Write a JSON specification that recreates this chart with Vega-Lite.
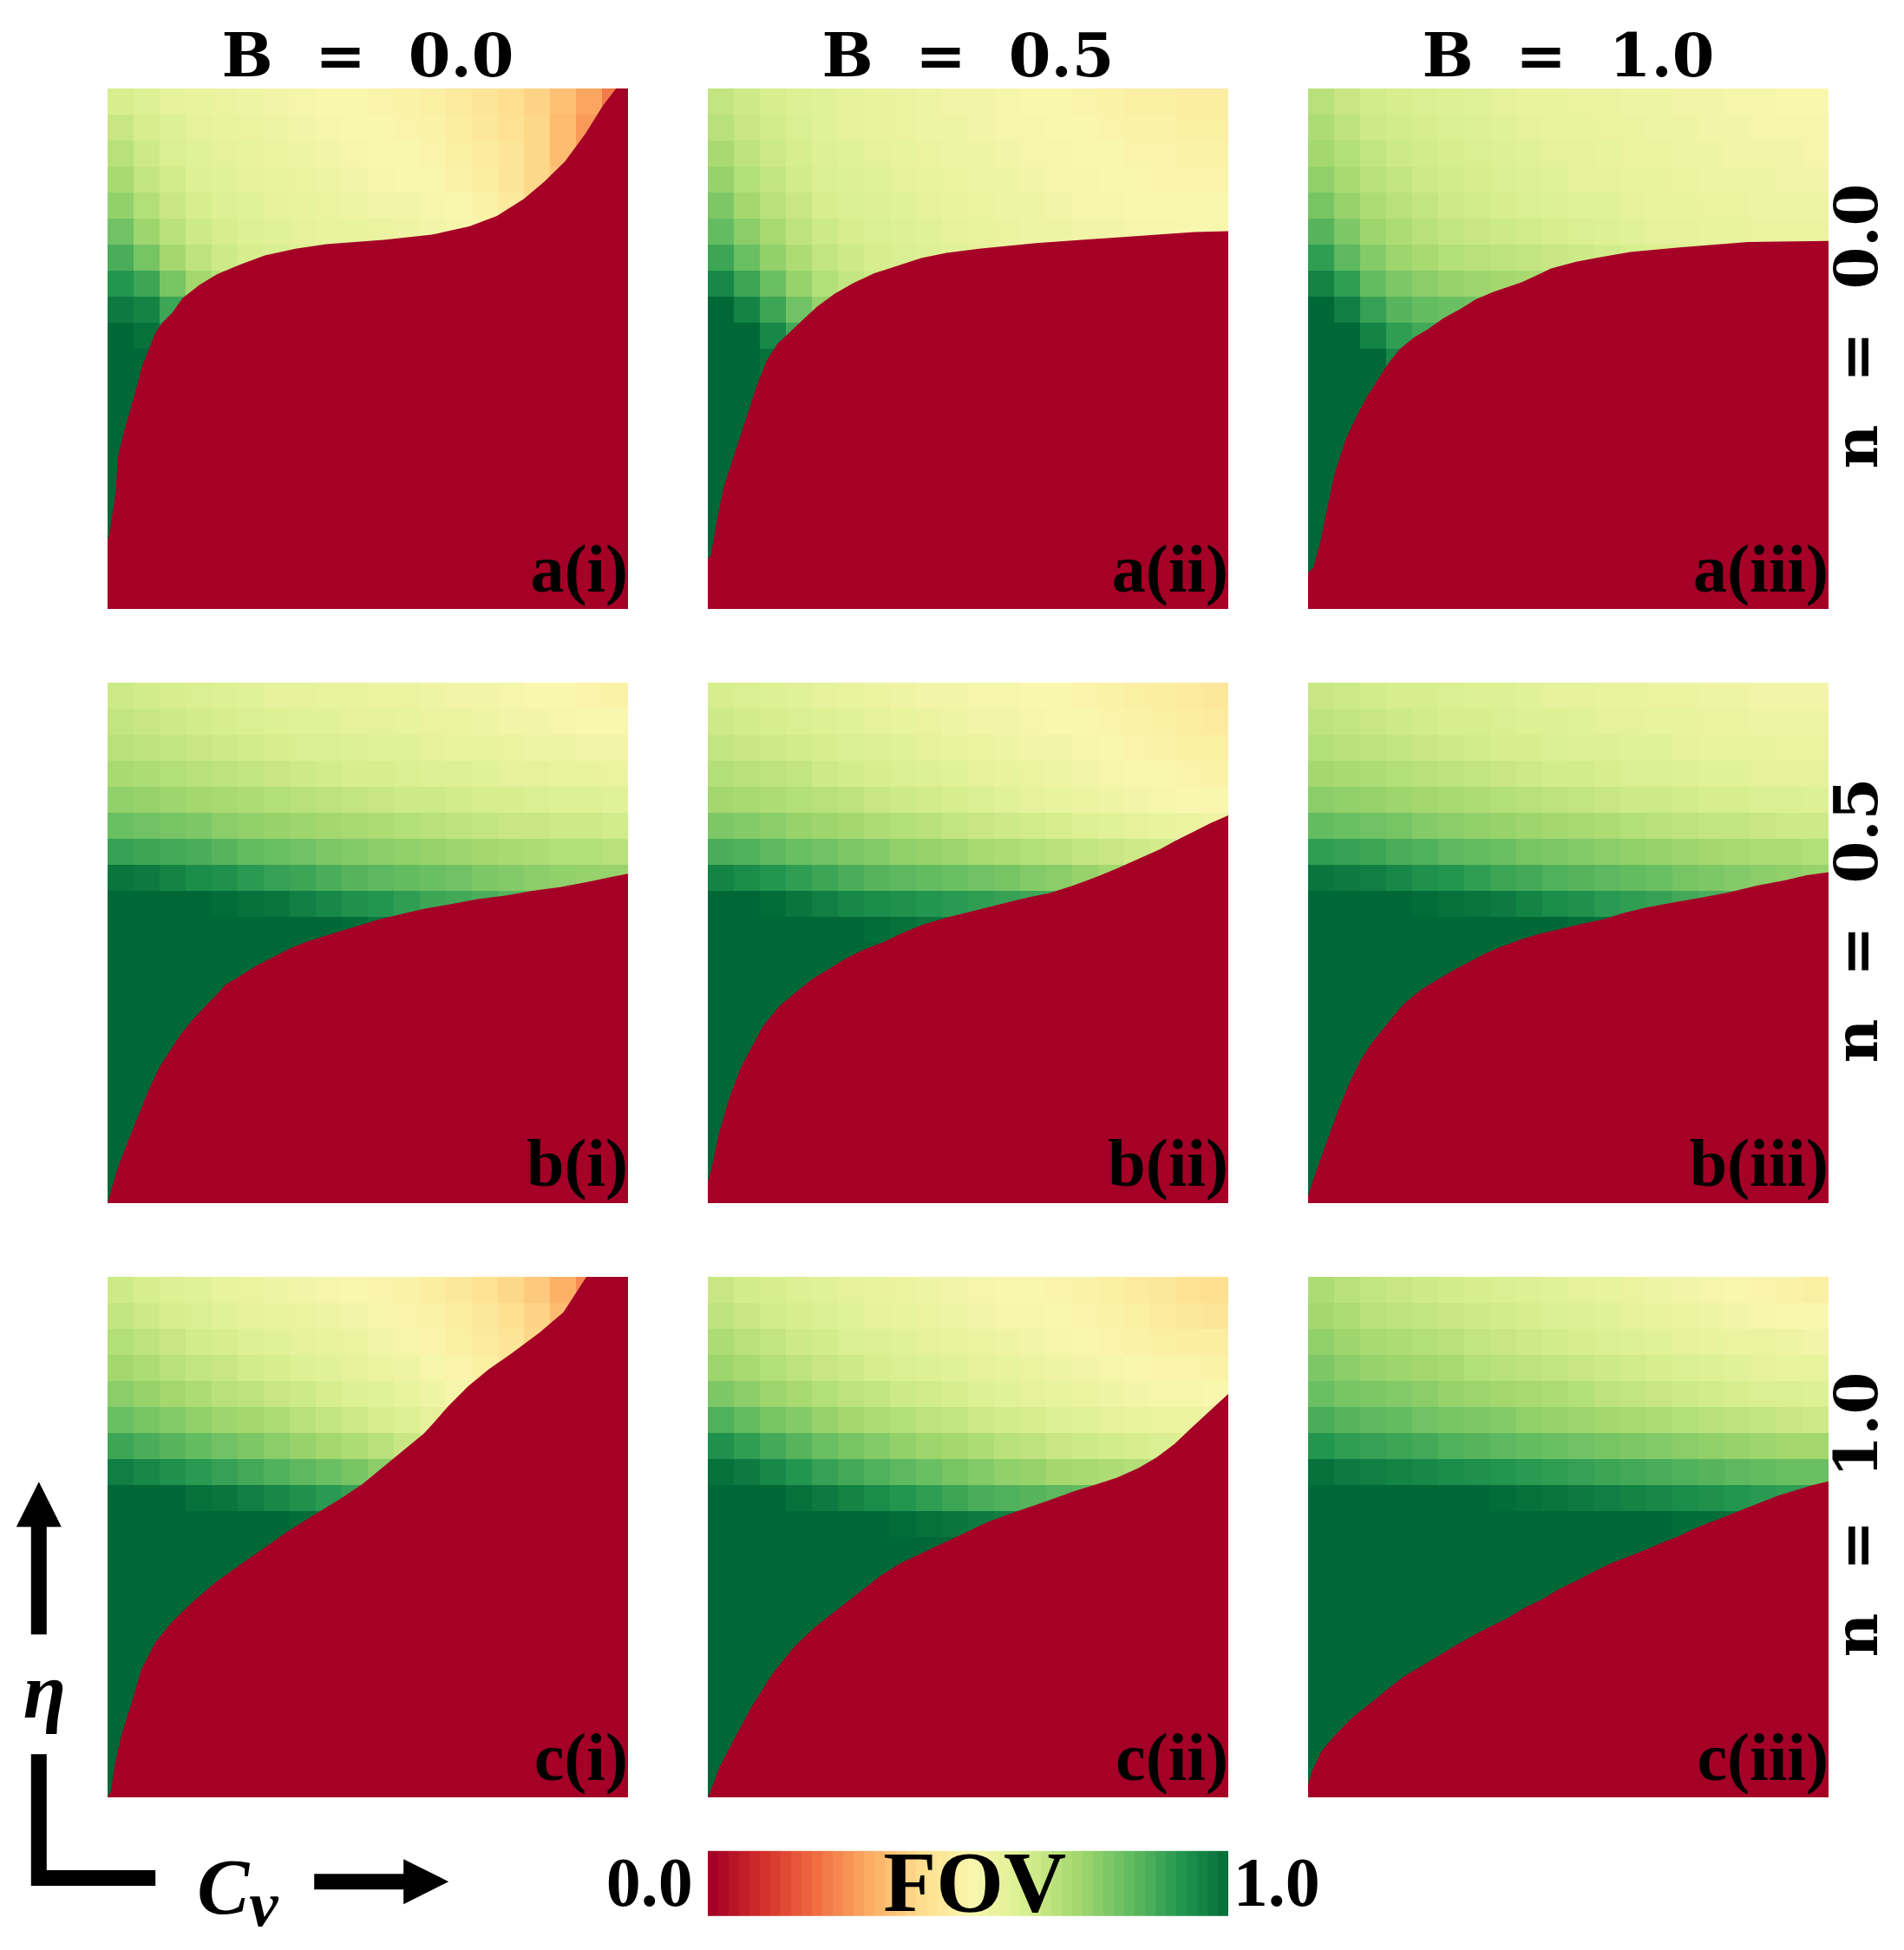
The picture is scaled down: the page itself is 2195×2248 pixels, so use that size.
{
"$schema":"https://vega.github.io/schema/vega-lite/v6.json",
"background":"white",
"padding":{"left":8,"top":32,"right":10,"bottom":10},
"data":{"values":[
{"N":"0.0","B":"0.0","y":19,"a":0.6,"b":0.58,"c":0.56,"d":0.55,"e":0.54,"f":0.53,"g":0.52,"h":0.51,"i":0.5,"j":0.5,"k":0.49,"l":0.48,"m":0.47,"n":0.45,"o":0.43,"p":0.41,"q":0.38,"r":0.34,"s":0.29,"t":0.22},
{"N":"0.0","B":"0.0","y":18,"a":0.63,"b":0.6,"c":0.58,"d":0.56,"e":0.55,"f":0.54,"g":0.53,"h":0.52,"i":0.51,"j":0.5,"k":0.5,"l":0.49,"m":0.48,"n":0.46,"o":0.44,"p":0.42,"q":0.39,"r":0.33,"s":0.27},
{"N":"0.0","B":"0.0","y":17,"a":0.66,"b":0.62,"c":0.59,"d":0.57,"e":0.56,"f":0.55,"g":0.54,"h":0.53,"i":0.52,"j":0.51,"k":0.5,"l":0.5,"m":0.49,"n":0.47,"o":0.45,"p":0.43,"q":0.39,"r":0.33,"s":0.28},
{"N":"0.0","B":"0.0","y":16,"a":0.69,"b":0.64,"c":0.61,"d":0.58,"e":0.57,"f":0.56,"g":0.55,"h":0.54,"i":0.53,"j":0.52,"k":0.51,"l":0.5,"m":0.5,"n":0.48,"o":0.46,"p":0.43,"q":0.39,"r":0.35},
{"N":"0.0","B":"0.0","y":15,"a":0.73,"b":0.67,"c":0.63,"d":0.6,"e":0.58,"f":0.57,"g":0.56,"h":0.55,"i":0.54,"j":0.53,"k":0.52,"l":0.52,"m":0.51,"n":0.5,"o":0.48,"p":0.45,"q":0.4},
{"N":"0.0","B":"0.0","y":14,"a":0.78,"b":0.71,"c":0.66,"d":0.62,"e":0.6,"f":0.58,"g":0.57,"h":0.56,"i":0.55,"j":0.55,"k":0.54,"l":0.53,"m":0.52,"n":0.51,"o":0.49},
{"N":"0.0","B":"0.0","y":13,"a":0.84,"b":0.77,"c":0.7,"d":0.65,"e":0.62,"f":0.6,"g":0.59,"h":0.58,"i":0.57},
{"N":"0.0","B":"0.0","y":12,"a":0.9,"b":0.86,"c":0.77,"d":0.7,"e":0.66},
{"N":"0.0","B":"0.0","y":11,"a":0.96,"b":0.94,"c":0.86},
{"N":"0.0","B":"0.0","y":10,"a":1,"b":0.98,"c":0.9},
{"N":"0.0","B":"0.0","y":9,"a":1,"b":1},
{"N":"0.0","B":"0.0","y":8,"a":1,"b":1},
{"N":"0.0","B":"0.0","y":7,"a":1},
{"N":"0.0","B":"0.0","y":6,"a":1},
{"N":"0.0","B":"0.0","y":5,"a":1},
{"N":"0.0","B":"0.0","y":4,"a":1},
{"N":"0.0","B":"0.0","y":3,"a":1},
{"N":"0.0","B":"0.0","y":2,"a":1},
{"N":"0.0","B":"0.5","y":19,"a":0.64,"b":0.62,"c":0.6,"d":0.58,"e":0.57,"f":0.56,"g":0.55,"h":0.54,"i":0.53,"j":0.52,"k":0.52,"l":0.51,"m":0.5,"n":0.5,"o":0.49,"p":0.48,"q":0.47,"r":0.47,"s":0.46,"t":0.46},
{"N":"0.0","B":"0.5","y":18,"a":0.66,"b":0.63,"c":0.61,"d":0.59,"e":0.57,"f":0.56,"g":0.55,"h":0.54,"i":0.53,"j":0.53,"k":0.52,"l":0.51,"m":0.51,"n":0.5,"o":0.5,"p":0.49,"q":0.48,"r":0.48,"s":0.47,"t":0.47},
{"N":"0.0","B":"0.5","y":17,"a":0.69,"b":0.65,"c":0.62,"d":0.6,"e":0.58,"f":0.57,"g":0.56,"h":0.55,"i":0.54,"j":0.53,"k":0.53,"l":0.52,"m":0.51,"n":0.51,"o":0.5,"p":0.5,"q":0.49,"r":0.49,"s":0.48,"t":0.48},
{"N":"0.0","B":"0.5","y":16,"a":0.72,"b":0.67,"c":0.64,"d":0.61,"e":0.59,"f":0.58,"g":0.57,"h":0.56,"i":0.55,"j":0.54,"k":0.53,"l":0.53,"m":0.52,"n":0.51,"o":0.51,"p":0.5,"q":0.5,"r":0.49,"s":0.49,"t":0.49},
{"N":"0.0","B":"0.5","y":15,"a":0.76,"b":0.7,"c":0.66,"d":0.63,"e":0.6,"f":0.59,"g":0.58,"h":0.57,"i":0.56,"j":0.55,"k":0.54,"l":0.53,"m":0.53,"n":0.52,"o":0.51,"p":0.51,"q":0.5,"r":0.5,"s":0.5,"t":0.5},
{"N":"0.0","B":"0.5","y":14,"a":0.8,"b":0.74,"c":0.69,"d":0.65,"e":0.62,"f":0.6,"g":0.59,"h":0.58,"i":0.57,"j":0.56,"k":0.55,"l":0.54,"m":0.53,"n":0.53,"o":0.52,"p":0.52,"q":0.51,"r":0.51,"s":0.5,"t":0.5},
{"N":"0.0","B":"0.5","y":13,"a":0.86,"b":0.79,"c":0.73,"d":0.68,"e":0.64,"f":0.62,"g":0.6,"h":0.59,"i":0.58,"j":0.57,"k":0.56,"l":0.55},
{"N":"0.0","B":"0.5","y":12,"a":0.93,"b":0.86,"c":0.79,"d":0.72,"e":0.67,"f":0.64,"g":0.62},
{"N":"0.0","B":"0.5","y":11,"a":1,"b":0.94,"c":0.86,"d":0.78,"e":0.72},
{"N":"0.0","B":"0.5","y":10,"a":1,"b":1,"c":0.93,"d":0.85},
{"N":"0.0","B":"0.5","y":9,"a":1,"b":1,"c":0.98},
{"N":"0.0","B":"0.5","y":8,"a":1,"b":1,"c":1},
{"N":"0.0","B":"0.5","y":7,"a":1,"b":1},
{"N":"0.0","B":"0.5","y":6,"a":1,"b":1},
{"N":"0.0","B":"0.5","y":5,"a":1,"b":1},
{"N":"0.0","B":"0.5","y":4,"a":1},
{"N":"0.0","B":"0.5","y":3,"a":1},
{"N":"0.0","B":"0.5","y":2,"a":1},
{"N":"0.0","B":"0.5","y":1,"a":1},
{"N":"0.0","B":"1.0","y":19,"a":0.66,"b":0.63,"c":0.61,"d":0.6,"e":0.59,"f":0.58,"g":0.57,"h":0.56,"i":0.55,"j":0.55,"k":0.54,"l":0.54,"m":0.53,"n":0.53,"o":0.52,"p":0.52,"q":0.51,"r":0.51,"s":0.5,"t":0.5},
{"N":"0.0","B":"1.0","y":18,"a":0.68,"b":0.65,"c":0.62,"d":0.61,"e":0.6,"f":0.59,"g":0.58,"h":0.57,"i":0.56,"j":0.55,"k":0.55,"l":0.54,"m":0.54,"n":0.53,"o":0.53,"p":0.52,"q":0.52,"r":0.51,"s":0.51,"t":0.51},
{"N":"0.0","B":"1.0","y":17,"a":0.7,"b":0.67,"c":0.64,"d":0.62,"e":0.61,"f":0.6,"g":0.59,"h":0.58,"i":0.57,"j":0.56,"k":0.56,"l":0.55,"m":0.54,"n":0.54,"o":0.53,"p":0.53,"q":0.52,"r":0.52,"s":0.52,"t":0.51},
{"N":"0.0","B":"1.0","y":16,"a":0.73,"b":0.69,"c":0.66,"d":0.64,"e":0.62,"f":0.61,"g":0.6,"h":0.59,"i":0.58,"j":0.57,"k":0.56,"l":0.56,"m":0.55,"n":0.55,"o":0.54,"p":0.53,"q":0.53,"r":0.53,"s":0.52,"t":0.52},
{"N":"0.0","B":"1.0","y":15,"a":0.77,"b":0.72,"c":0.68,"d":0.66,"e":0.64,"f":0.62,"g":0.61,"h":0.6,"i":0.59,"j":0.58,"k":0.57,"l":0.57,"m":0.56,"n":0.55,"o":0.55,"p":0.54,"q":0.54,"r":0.53,"s":0.53,"t":0.53},
{"N":"0.0","B":"1.0","y":14,"a":0.82,"b":0.76,"c":0.71,"d":0.68,"e":0.66,"f":0.64,"g":0.63,"h":0.62,"i":0.61,"j":0.6,"k":0.59,"l":0.58,"m":0.57,"n":0.56,"o":0.56,"p":0.55,"q":0.55,"r":0.54,"s":0.54,"t":0.54},
{"N":"0.0","B":"1.0","y":13,"a":0.88,"b":0.81,"c":0.75,"d":0.71,"e":0.69,"f":0.67,"g":0.66,"h":0.65,"i":0.64,"j":0.63,"k":0.62,"l":0.61,"m":0.6,"n":0.59,"o":0.58,"p":0.57},
{"N":"0.0","B":"1.0","y":12,"a":0.94,"b":0.88,"c":0.8,"d":0.76,"e":0.74,"f":0.72,"g":0.71,"h":0.7,"i":0.69,"j":0.68},
{"N":"0.0","B":"1.0","y":11,"a":1,"b":0.95,"c":0.87,"d":0.82,"e":0.8,"f":0.79,"g":0.78,"h":0.78},
{"N":"0.0","B":"1.0","y":10,"a":1,"b":1,"c":0.94,"d":0.88,"e":0.85},
{"N":"0.0","B":"1.0","y":9,"a":1,"b":1,"c":1,"d":0.93},
{"N":"0.0","B":"1.0","y":8,"a":1,"b":1,"c":1},
{"N":"0.0","B":"1.0","y":7,"a":1,"b":1,"c":1},
{"N":"0.0","B":"1.0","y":6,"a":1,"b":1},
{"N":"0.0","B":"1.0","y":5,"a":1,"b":1},
{"N":"0.0","B":"1.0","y":4,"a":1},
{"N":"0.0","B":"1.0","y":3,"a":1},
{"N":"0.0","B":"1.0","y":2,"a":1},
{"N":"0.0","B":"1.0","y":1,"a":1},
{"N":"0.5","B":"0.0","y":19,"a":0.62,"b":0.61,"c":0.6,"d":0.59,"e":0.58,"f":0.57,"g":0.56,"h":0.56,"i":0.55,"j":0.55,"k":0.54,"l":0.54,"m":0.53,"n":0.52,"o":0.52,"p":0.51,"q":0.5,"r":0.5,"s":0.49,"t":0.48},
{"N":"0.5","B":"0.0","y":18,"a":0.64,"b":0.63,"c":0.62,"d":0.61,"e":0.6,"f":0.59,"g":0.58,"h":0.57,"i":0.57,"j":0.56,"k":0.56,"l":0.55,"m":0.54,"n":0.54,"o":0.53,"p":0.52,"q":0.52,"r":0.51,"s":0.5,"t":0.5},
{"N":"0.5","B":"0.0","y":17,"a":0.66,"b":0.65,"c":0.64,"d":0.63,"e":0.62,"f":0.61,"g":0.6,"h":0.59,"i":0.59,"j":0.58,"k":0.57,"l":0.57,"m":0.56,"n":0.55,"o":0.55,"p":0.54,"q":0.53,"r":0.53,"s":0.52,"t":0.52},
{"N":"0.5","B":"0.0","y":16,"a":0.69,"b":0.68,"c":0.67,"d":0.66,"e":0.65,"f":0.64,"g":0.63,"h":0.62,"i":0.61,"j":0.6,"k":0.6,"l":0.59,"m":0.58,"n":0.58,"o":0.57,"p":0.56,"q":0.56,"r":0.55,"s":0.55,"t":0.54},
{"N":"0.5","B":"0.0","y":15,"a":0.73,"b":0.72,"c":0.71,"d":0.7,"e":0.69,"f":0.68,"g":0.67,"h":0.66,"i":0.65,"j":0.64,"k":0.63,"l":0.62,"m":0.62,"n":0.61,"o":0.6,"p":0.6,"q":0.59,"r":0.58,"s":0.58,"t":0.57},
{"N":"0.5","B":"0.0","y":14,"a":0.79,"b":0.78,"c":0.77,"d":0.76,"e":0.74,"f":0.73,"g":0.72,"h":0.71,"i":0.7,"j":0.69,"k":0.68,"l":0.67,"m":0.66,"n":0.65,"o":0.64,"p":0.63,"q":0.63,"r":0.62,"s":0.62,"t":0.61},
{"N":"0.5","B":"0.0","y":13,"a":0.87,"b":0.86,"c":0.85,"d":0.84,"e":0.82,"f":0.8,"g":0.79,"h":0.78,"i":0.76,"j":0.75,"k":0.74,"l":0.73,"m":0.72,"n":0.71,"o":0.7,"p":0.69,"q":0.68,"r":0.67,"s":0.67,"t":0.66},
{"N":"0.5","B":"0.0","y":12,"a":0.97,"b":0.96,"c":0.94,"d":0.92,"e":0.91,"f":0.89,"g":0.87,"h":0.86,"i":0.84,"j":0.82,"k":0.81,"l":0.8,"m":0.79,"n":0.78,"o":0.76,"p":0.75,"q":0.74,"r":0.73,"s":0.72,"t":0.72},
{"N":"0.5","B":"0.0","y":11,"a":1,"b":1,"c":1,"d":1,"e":0.99,"f":0.98,"g":0.97,"h":0.95,"i":0.93,"j":0.91,"k":0.9,"l":0.88,"m":0.86,"n":0.85,"o":0.84,"p":0.82,"q":0.81},
{"N":"0.5","B":"0.0","y":10,"a":1,"b":1,"c":1,"d":1,"e":1,"f":1,"g":1,"h":1,"i":1,"j":0.99,"k":0.97},
{"N":"0.5","B":"0.0","y":9,"a":1,"b":1,"c":1,"d":1,"e":1,"f":1,"g":1,"h":1},
{"N":"0.5","B":"0.0","y":8,"a":1,"b":1,"c":1,"d":1,"e":1,"f":1},
{"N":"0.5","B":"0.0","y":7,"a":1,"b":1,"c":1,"d":1,"e":1},
{"N":"0.5","B":"0.0","y":6,"a":1,"b":1,"c":1,"d":1},
{"N":"0.5","B":"0.0","y":5,"a":1,"b":1,"c":1},
{"N":"0.5","B":"0.0","y":4,"a":1,"b":1},
{"N":"0.5","B":"0.0","y":3,"a":1,"b":1},
{"N":"0.5","B":"0.0","y":2,"a":1,"b":1},
{"N":"0.5","B":"0.0","y":1,"a":1},
{"N":"0.5","B":"0.0","y":0,"a":1},
{"N":"0.5","B":"0.5","y":19,"a":0.6,"b":0.59,"c":0.58,"d":0.57,"e":0.56,"f":0.55,"g":0.54,"h":0.53,"i":0.52,"j":0.52,"k":0.51,"l":0.51,"m":0.5,"n":0.5,"o":0.49,"p":0.48,"q":0.47,"r":0.46,"s":0.45,"t":0.44},
{"N":"0.5","B":"0.5","y":18,"a":0.62,"b":0.61,"c":0.6,"d":0.59,"e":0.58,"f":0.57,"g":0.56,"h":0.55,"i":0.54,"j":0.53,"k":0.52,"l":0.52,"m":0.51,"n":0.5,"o":0.5,"p":0.49,"q":0.48,"r":0.47,"s":0.46,"t":0.45},
{"N":"0.5","B":"0.5","y":17,"a":0.64,"b":0.63,"c":0.62,"d":0.61,"e":0.6,"f":0.59,"g":0.58,"h":0.57,"i":0.56,"j":0.55,"k":0.54,"l":0.53,"m":0.52,"n":0.52,"o":0.51,"p":0.5,"q":0.49,"r":0.48,"s":0.47,"t":0.47},
{"N":"0.5","B":"0.5","y":16,"a":0.67,"b":0.66,"c":0.65,"d":0.64,"e":0.62,"f":0.61,"g":0.6,"h":0.59,"i":0.58,"j":0.57,"k":0.56,"l":0.55,"m":0.54,"n":0.53,"o":0.52,"p":0.51,"q":0.5,"r":0.5,"s":0.49,"t":0.48},
{"N":"0.5","B":"0.5","y":15,"a":0.7,"b":0.69,"c":0.68,"d":0.67,"e":0.66,"f":0.65,"g":0.63,"h":0.62,"i":0.61,"j":0.6,"k":0.59,"l":0.57,"m":0.56,"n":0.55,"o":0.54,"p":0.53,"q":0.52,"r":0.51,"s":0.5,"t":0.5},
{"N":"0.5","B":"0.5","y":14,"a":0.76,"b":0.75,"c":0.74,"d":0.72,"e":0.71,"f":0.7,"g":0.68,"h":0.67,"i":0.66,"j":0.64,"k":0.63,"l":0.62,"m":0.61,"n":0.6,"o":0.58,"p":0.57,"q":0.56,"r":0.55,"s":0.54,"t":0.53},
{"N":"0.5","B":"0.5","y":13,"a":0.84,"b":0.83,"c":0.81,"d":0.79,"e":0.78,"f":0.76,"g":0.75,"h":0.73,"i":0.72,"j":0.71,"k":0.69,"l":0.68,"m":0.67,"n":0.66,"o":0.64,"p":0.63,"q":0.62,"r":0.61},
{"N":"0.5","B":"0.5","y":12,"a":0.94,"b":0.92,"c":0.9,"d":0.88,"e":0.86,"f":0.84,"g":0.82,"h":0.81,"i":0.8,"j":0.79,"k":0.78,"l":0.77,"m":0.75,"n":0.74,"o":0.72,"p":0.7},
{"N":"0.5","B":"0.5","y":11,"a":1,"b":1,"c":0.99,"d":0.97,"e":0.95,"f":0.93,"g":0.92,"h":0.91,"i":0.9,"j":0.89,"k":0.88,"l":0.87,"m":0.86,"n":0.85},
{"N":"0.5","B":"0.5","y":10,"a":1,"b":1,"c":1,"d":1,"e":1,"f":1,"g":0.99,"h":0.98,"i":0.97,"j":0.96},
{"N":"0.5","B":"0.5","y":9,"a":1,"b":1,"c":1,"d":1,"e":1,"f":1,"g":1},
{"N":"0.5","B":"0.5","y":8,"a":1,"b":1,"c":1,"d":1,"e":1},
{"N":"0.5","B":"0.5","y":7,"a":1,"b":1,"c":1,"d":1},
{"N":"0.5","B":"0.5","y":6,"a":1,"b":1,"c":1},
{"N":"0.5","B":"0.5","y":5,"a":1,"b":1},
{"N":"0.5","B":"0.5","y":4,"a":1,"b":1},
{"N":"0.5","B":"0.5","y":3,"a":1},
{"N":"0.5","B":"0.5","y":2,"a":1},
{"N":"0.5","B":"0.5","y":1,"a":1},
{"N":"0.5","B":"0.5","y":0,"a":1},
{"N":"0.5","B":"1.0","y":19,"a":0.63,"b":0.62,"c":0.61,"d":0.6,"e":0.6,"f":0.59,"g":0.58,"h":0.58,"i":0.57,"j":0.56,"k":0.56,"l":0.55,"m":0.55,"n":0.54,"o":0.54,"p":0.53,"q":0.53,"r":0.52,"s":0.52,"t":0.52},
{"N":"0.5","B":"1.0","y":18,"a":0.65,"b":0.64,"c":0.63,"d":0.62,"e":0.61,"f":0.6,"g":0.6,"h":0.59,"i":0.58,"j":0.58,"k":0.57,"l":0.56,"m":0.56,"n":0.55,"o":0.55,"p":0.54,"q":0.54,"r":0.53,"s":0.53,"t":0.53},
{"N":"0.5","B":"1.0","y":17,"a":0.67,"b":0.66,"c":0.65,"d":0.64,"e":0.63,"f":0.62,"g":0.61,"h":0.6,"i":0.6,"j":0.59,"k":0.58,"l":0.58,"m":0.57,"n":0.57,"o":0.56,"p":0.55,"q":0.55,"r":0.55,"s":0.54,"t":0.54},
{"N":"0.5","B":"1.0","y":16,"a":0.7,"b":0.69,"c":0.68,"d":0.67,"e":0.66,"f":0.65,"g":0.64,"h":0.63,"i":0.62,"j":0.61,"k":0.61,"l":0.6,"m":0.59,"n":0.59,"o":0.58,"p":0.57,"q":0.57,"r":0.56,"s":0.56,"t":0.56},
{"N":"0.5","B":"1.0","y":15,"a":0.74,"b":0.73,"c":0.72,"d":0.71,"e":0.7,"f":0.69,"g":0.68,"h":0.67,"i":0.66,"j":0.65,"k":0.64,"l":0.63,"m":0.62,"n":0.62,"o":0.61,"p":0.6,"q":0.6,"r":0.59,"s":0.59,"t":0.58},
{"N":"0.5","B":"1.0","y":14,"a":0.8,"b":0.79,"c":0.78,"d":0.77,"e":0.75,"f":0.74,"g":0.73,"h":0.72,"i":0.71,"j":0.7,"k":0.69,"l":0.68,"m":0.67,"n":0.66,"o":0.65,"p":0.64,"q":0.64,"r":0.63,"s":0.62,"t":0.62},
{"N":"0.5","B":"1.0","y":13,"a":0.88,"b":0.87,"c":0.86,"d":0.84,"e":0.83,"f":0.81,"g":0.8,"h":0.79,"i":0.77,"j":0.76,"k":0.75,"l":0.74,"m":0.73,"n":0.72,"o":0.71,"p":0.7,"q":0.69,"r":0.68,"s":0.68,"t":0.67},
{"N":"0.5","B":"1.0","y":12,"a":0.97,"b":0.96,"c":0.95,"d":0.93,"e":0.91,"f":0.9,"g":0.88,"h":0.86,"i":0.85,"j":0.83,"k":0.82,"l":0.81,"m":0.8,"n":0.79,"o":0.77,"p":0.76,"q":0.75,"r":0.74,"s":0.73,"t":0.72},
{"N":"0.5","B":"1.0","y":11,"a":1,"b":1,"c":1,"d":1,"e":0.99,"f":0.98,"g":0.97,"h":0.96,"i":0.94,"j":0.92,"k":0.91,"l":0.89,"m":0.88,"n":0.87,"o":0.85,"p":0.84,"q":0.83},
{"N":"0.5","B":"1.0","y":10,"a":1,"b":1,"c":1,"d":1,"e":1,"f":1,"g":1,"h":1,"i":1,"j":1,"k":0.99,"l":0.98},
{"N":"0.5","B":"1.0","y":9,"a":1,"b":1,"c":1,"d":1,"e":1,"f":1,"g":1,"h":1},
{"N":"0.5","B":"1.0","y":8,"a":1,"b":1,"c":1,"d":1,"e":1,"f":1},
{"N":"0.5","B":"1.0","y":7,"a":1,"b":1,"c":1,"d":1,"e":1},
{"N":"0.5","B":"1.0","y":6,"a":1,"b":1,"c":1,"d":1},
{"N":"0.5","B":"1.0","y":5,"a":1,"b":1,"c":1},
{"N":"0.5","B":"1.0","y":4,"a":1,"b":1},
{"N":"0.5","B":"1.0","y":3,"a":1,"b":1},
{"N":"0.5","B":"1.0","y":2,"a":1},
{"N":"0.5","B":"1.0","y":1,"a":1},
{"N":"0.5","B":"1.0","y":0,"a":1},
{"N":"1.0","B":"0.0","y":19,"a":0.62,"b":0.6,"c":0.58,"d":0.57,"e":0.55,"f":0.54,"g":0.53,"h":0.52,"i":0.51,"j":0.5,"k":0.49,"l":0.48,"m":0.46,"n":0.44,"o":0.42,"p":0.39,"q":0.36,"r":0.31,"s":0.25},
{"N":"1.0","B":"0.0","y":18,"a":0.64,"b":0.62,"c":0.6,"d":0.59,"e":0.57,"f":0.56,"g":0.55,"h":0.54,"i":0.53,"j":0.52,"k":0.51,"l":0.49,"m":0.48,"n":0.46,"o":0.44,"p":0.41,"q":0.38,"r":0.33},
{"N":"1.0","B":"0.0","y":17,"a":0.67,"b":0.65,"c":0.63,"d":0.61,"e":0.6,"f":0.58,"g":0.57,"h":0.56,"i":0.55,"j":0.54,"k":0.52,"l":0.51,"m":0.49,"n":0.47,"o":0.45,"p":0.43,"q":0.39},
{"N":"1.0","B":"0.0","y":16,"a":0.7,"b":0.68,"c":0.66,"d":0.64,"e":0.63,"f":0.61,"g":0.6,"h":0.58,"i":0.57,"j":0.56,"k":0.54,"l":0.53,"m":0.51,"n":0.49,"o":0.47,"p":0.44},
{"N":"1.0","B":"0.0","y":15,"a":0.74,"b":0.72,"c":0.7,"d":0.68,"e":0.66,"f":0.65,"g":0.63,"h":0.62,"i":0.6,"j":0.58,"k":0.57,"l":0.55,"m":0.53,"n":0.51,"o":0.49},
{"N":"1.0","B":"0.0","y":14,"a":0.79,"b":0.77,"c":0.75,"d":0.73,"e":0.71,"f":0.7,"g":0.68,"h":0.66,"i":0.64,"j":0.62,"k":0.6,"l":0.58,"m":0.56,"n":0.54},
{"N":"1.0","B":"0.0","y":13,"a":0.86,"b":0.84,"c":0.82,"d":0.8,"e":0.78,"f":0.76,"g":0.74,"h":0.72,"i":0.7,"j":0.68,"k":0.66,"l":0.63,"m":0.6},
{"N":"1.0","B":"0.0","y":12,"a":0.95,"b":0.93,"c":0.91,"d":0.89,"e":0.87,"f":0.85,"g":0.83,"h":0.81,"i":0.79,"j":0.77,"k":0.74},
{"N":"1.0","B":"0.0","y":11,"a":1,"b":1,"c":1,"d":0.98,"e":0.97,"f":0.95,"g":0.93,"h":0.91,"i":0.89,"j":0.87},
{"N":"1.0","B":"0.0","y":10,"a":1,"b":1,"c":1,"d":1,"e":1,"f":1,"g":1,"h":0.99,"i":0.97},
{"N":"1.0","B":"0.0","y":9,"a":1,"b":1,"c":1,"d":1,"e":1,"f":1,"g":1},
{"N":"1.0","B":"0.0","y":8,"a":1,"b":1,"c":1,"d":1,"e":1,"f":1},
{"N":"1.0","B":"0.0","y":7,"a":1,"b":1,"c":1,"d":1},
{"N":"1.0","B":"0.0","y":6,"a":1,"b":1,"c":1},
{"N":"1.0","B":"0.0","y":5,"a":1,"b":1},
{"N":"1.0","B":"0.0","y":4,"a":1,"b":1},
{"N":"1.0","B":"0.0","y":3,"a":1,"b":1},
{"N":"1.0","B":"0.0","y":2,"a":1},
{"N":"1.0","B":"0.0","y":1,"a":1},
{"N":"1.0","B":"0.0","y":0,"a":1},
{"N":"1.0","B":"0.5","y":19,"a":0.63,"b":0.61,"c":0.6,"d":0.58,"e":0.57,"f":0.56,"g":0.55,"h":0.54,"i":0.53,"j":0.52,"k":0.51,"l":0.5,"m":0.5,"n":0.49,"o":0.48,"p":0.47,"q":0.45,"r":0.44,"s":0.42,"t":0.41},
{"N":"1.0","B":"0.5","y":18,"a":0.65,"b":0.63,"c":0.61,"d":0.6,"e":0.59,"f":0.57,"g":0.56,"h":0.55,"i":0.54,"j":0.53,"k":0.52,"l":0.51,"m":0.51,"n":0.5,"o":0.49,"p":0.48,"q":0.47,"r":0.45,"s":0.44,"t":0.43},
{"N":"1.0","B":"0.5","y":17,"a":0.68,"b":0.66,"c":0.64,"d":0.62,"e":0.61,"f":0.59,"g":0.58,"h":0.57,"i":0.56,"j":0.55,"k":0.54,"l":0.53,"m":0.52,"n":0.51,"o":0.5,"p":0.49,"q":0.48,"r":0.47,"s":0.46,"t":0.46},
{"N":"1.0","B":"0.5","y":16,"a":0.71,"b":0.69,"c":0.67,"d":0.65,"e":0.63,"f":0.62,"g":0.6,"h":0.59,"i":0.58,"j":0.57,"k":0.56,"l":0.55,"m":0.54,"n":0.53,"o":0.52,"p":0.51,"q":0.5,"r":0.49,"s":0.49,"t":0.48},
{"N":"1.0","B":"0.5","y":15,"a":0.76,"b":0.74,"c":0.71,"d":0.69,"e":0.67,"f":0.65,"g":0.64,"h":0.62,"i":0.61,"j":0.6,"k":0.58,"l":0.57,"m":0.56,"n":0.55,"o":0.54,"p":0.53,"q":0.52,"r":0.51,"s":0.51,"t":0.5},
{"N":"1.0","B":"0.5","y":14,"a":0.83,"b":0.8,"c":0.77,"d":0.75,"e":0.72,"f":0.7,"g":0.68,"h":0.67,"i":0.65,"j":0.64,"k":0.62,"l":0.61,"m":0.6,"n":0.58,"o":0.57,"p":0.56,"q":0.55,"r":0.54,"s":0.54,"t":0.53},
{"N":"1.0","B":"0.5","y":13,"a":0.91,"b":0.88,"c":0.85,"d":0.82,"e":0.79,"f":0.77,"g":0.75,"h":0.73,"i":0.71,"j":0.7,"k":0.68,"l":0.66,"m":0.65,"n":0.63,"o":0.62,"p":0.61,"q":0.6,"r":0.59,"s":0.58},
{"N":"1.0","B":"0.5","y":12,"a":0.98,"b":0.96,"c":0.93,"d":0.9,"e":0.87,"f":0.85,"g":0.83,"h":0.81,"i":0.79,"j":0.77,"k":0.75,"l":0.73,"m":0.72,"n":0.7,"o":0.69,"p":0.68,"q":0.67,"r":0.66},
{"N":"1.0","B":"0.5","y":11,"a":1,"b":1,"c":1,"d":0.98,"e":0.96,"f":0.94,"g":0.92,"h":0.9,"i":0.88,"j":0.86,"k":0.84,"l":0.83,"m":0.82,"n":0.81,"o":0.8},
{"N":"1.0","B":"0.5","y":10,"a":1,"b":1,"c":1,"d":1,"e":1,"f":1,"g":1,"h":0.99,"i":0.98,"j":0.97,"k":0.96,"l":0.95},
{"N":"1.0","B":"0.5","y":9,"a":1,"b":1,"c":1,"d":1,"e":1,"f":1,"g":1,"h":1,"i":1,"j":1},
{"N":"1.0","B":"0.5","y":8,"a":1,"b":1,"c":1,"d":1,"e":1,"f":1,"g":1,"h":1},
{"N":"1.0","B":"0.5","y":7,"a":1,"b":1,"c":1,"d":1,"e":1,"f":1},
{"N":"1.0","B":"0.5","y":6,"a":1,"b":1,"c":1,"d":1,"e":1},
{"N":"1.0","B":"0.5","y":5,"a":1,"b":1,"c":1,"d":1},
{"N":"1.0","B":"0.5","y":4,"a":1,"b":1,"c":1},
{"N":"1.0","B":"0.5","y":3,"a":1,"b":1},
{"N":"1.0","B":"0.5","y":2,"a":1,"b":1},
{"N":"1.0","B":"0.5","y":1,"a":1},
{"N":"1.0","B":"0.5","y":0,"a":1},
{"N":"1.0","B":"1.0","y":19,"a":0.68,"b":0.66,"c":0.64,"d":0.63,"e":0.62,"f":0.61,"g":0.6,"h":0.59,"i":0.58,"j":0.57,"k":0.56,"l":0.55,"m":0.54,"n":0.53,"o":0.52,"p":0.51,"q":0.5,"r":0.49,"s":0.48,"t":0.47},
{"N":"1.0","B":"1.0","y":18,"a":0.7,"b":0.68,"c":0.66,"d":0.65,"e":0.64,"f":0.63,"g":0.62,"h":0.61,"i":0.6,"j":0.59,"k":0.58,"l":0.57,"m":0.56,"n":0.55,"o":0.54,"p":0.53,"q":0.52,"r":0.51,"s":0.5,"t":0.5},
{"N":"1.0","B":"1.0","y":17,"a":0.73,"b":0.71,"c":0.69,"d":0.68,"e":0.67,"f":0.66,"g":0.64,"h":0.63,"i":0.62,"j":0.61,"k":0.6,"l":0.59,"m":0.58,"n":0.57,"o":0.56,"p":0.55,"q":0.54,"r":0.54,"s":0.53,"t":0.52},
{"N":"1.0","B":"1.0","y":16,"a":0.76,"b":0.74,"c":0.72,"d":0.71,"e":0.7,"f":0.69,"g":0.67,"h":0.66,"i":0.65,"j":0.64,"k":0.63,"l":0.62,"m":0.61,"n":0.6,"o":0.59,"p":0.58,"q":0.57,"r":0.56,"s":0.55,"t":0.55},
{"N":"1.0","B":"1.0","y":15,"a":0.79,"b":0.77,"c":0.76,"d":0.75,"e":0.74,"f":0.72,"g":0.71,"h":0.7,"i":0.69,"j":0.68,"k":0.67,"l":0.65,"m":0.64,"n":0.63,"o":0.62,"p":0.61,"q":0.6,"r":0.59,"s":0.59,"t":0.58},
{"N":"1.0","B":"1.0","y":14,"a":0.84,"b":0.82,"c":0.81,"d":0.8,"e":0.78,"f":0.77,"g":0.76,"h":0.75,"i":0.73,"j":0.72,"k":0.71,"l":0.7,"m":0.69,"n":0.68,"o":0.67,"p":0.66,"q":0.65,"r":0.64,"s":0.63,"t":0.62},
{"N":"1.0","B":"1.0","y":13,"a":0.9,"b":0.88,"c":0.87,"d":0.86,"e":0.85,"f":0.83,"g":0.82,"h":0.81,"i":0.8,"j":0.79,"k":0.78,"l":0.77,"m":0.76,"n":0.75,"o":0.74,"p":0.73,"q":0.72,"r":0.71,"s":0.7,"t":0.7},
{"N":"1.0","B":"1.0","y":12,"a":0.98,"b":0.96,"c":0.95,"d":0.94,"e":0.93,"f":0.92,"g":0.91,"h":0.9,"i":0.89,"j":0.88,"k":0.87,"l":0.86,"m":0.85,"n":0.84,"o":0.83,"p":0.82,"q":0.81,"r":0.8,"s":0.79,"t":0.79},
{"N":"1.0","B":"1.0","y":11,"a":1,"b":1,"c":1,"d":1,"e":1,"f":1,"g":1,"h":0.99,"i":0.98,"j":0.97,"k":0.96,"l":0.95,"m":0.94,"n":0.93,"o":0.92,"p":0.91,"q":0.9,"r":0.89,"s":0.88,"t":0.88},
{"N":"1.0","B":"1.0","y":10,"a":1,"b":1,"c":1,"d":1,"e":1,"f":1,"g":1,"h":1,"i":1,"j":1,"k":1,"l":1,"m":1,"n":1,"o":0.99,"p":0.99,"q":0.98},
{"N":"1.0","B":"1.0","y":9,"a":1,"b":1,"c":1,"d":1,"e":1,"f":1,"g":1,"h":1,"i":1,"j":1,"k":1,"l":1,"m":1,"n":1,"o":1},
{"N":"1.0","B":"1.0","y":8,"a":1,"b":1,"c":1,"d":1,"e":1,"f":1,"g":1,"h":1,"i":1,"j":1,"k":1,"l":1},
{"N":"1.0","B":"1.0","y":7,"a":1,"b":1,"c":1,"d":1,"e":1,"f":1,"g":1,"h":1,"i":1,"j":1},
{"N":"1.0","B":"1.0","y":6,"a":1,"b":1,"c":1,"d":1,"e":1,"f":1,"g":1,"h":1},
{"N":"1.0","B":"1.0","y":5,"a":1,"b":1,"c":1,"d":1,"e":1,"f":1},
{"N":"1.0","B":"1.0","y":4,"a":1,"b":1,"c":1,"d":1,"e":1},
{"N":"1.0","B":"1.0","y":3,"a":1,"b":1,"c":1},
{"N":"1.0","B":"1.0","y":2,"a":1,"b":1},
{"N":"1.0","B":"1.0","y":1,"a":1},
{"N":"1.0","B":"1.0","y":0,"a":1},
{"N":"0.0","B":"0.0","bx":[0,0.003,0.016,0.02,0.033,0.052,0.066,0.079,0.092,0.105,0.125,0.144,0.177,0.21,0.256,0.302,0.361,0.42,0.531,0.623,0.695,0.748,0.8,0.839,0.879,0.918,0.951,0.977,1],"by":[0.135,0.14,0.227,0.293,0.346,0.412,0.465,0.498,0.531,0.55,0.57,0.597,0.623,0.643,0.662,0.679,0.692,0.701,0.709,0.719,0.735,0.755,0.788,0.821,0.86,0.913,0.966,1,1]},
{"N":"0.0","B":"0.5","bx":[0,0.006,0.017,0.03,0.051,0.072,0.093,0.113,0.134,0.155,0.182,0.21,0.244,0.279,0.32,0.369,0.41,0.459,0.521,0.631,0.804,0.935,1],"by":[0.097,0.103,0.168,0.232,0.297,0.361,0.426,0.477,0.51,0.529,0.555,0.581,0.606,0.626,0.645,0.661,0.674,0.684,0.692,0.703,0.715,0.724,0.726]},
{"N":"0.0","B":"1.0","bx":[0,0.01,0.024,0.037,0.051,0.072,0.093,0.114,0.134,0.155,0.176,0.204,0.231,0.259,0.294,0.321,0.356,0.411,0.467,0.515,0.557,0.619,0.709,0.845,1],"by":[0.07,0.079,0.131,0.195,0.26,0.325,0.37,0.409,0.441,0.473,0.499,0.522,0.538,0.558,0.577,0.594,0.609,0.628,0.654,0.667,0.675,0.686,0.694,0.705,0.707]},
{"N":"0.5","B":"0.0","bx":[0,0.004,0.019,0.036,0.057,0.078,0.099,0.12,0.141,0.162,0.184,0.205,0.226,0.257,0.289,0.321,0.352,0.384,0.416,0.479,0.521,0.563,0.606,0.658,0.711,0.764,0.816,0.869,0.922,0.964,1],"by":[0,0.014,0.066,0.111,0.163,0.215,0.26,0.293,0.325,0.351,0.374,0.396,0.419,0.438,0.458,0.474,0.49,0.503,0.513,0.532,0.545,0.555,0.565,0.574,0.584,0.591,0.6,0.607,0.617,0.626,0.633]},
{"N":"0.5","B":"0.5","bx":[0,0.006,0.021,0.042,0.064,0.085,0.106,0.138,0.169,0.201,0.233,0.265,0.297,0.339,0.371,0.413,0.456,0.508,0.561,0.614,0.657,0.699,0.742,0.784,0.826,0.869,0.9,0.932,0.964,1],"by":[0.042,0.062,0.133,0.204,0.262,0.301,0.34,0.379,0.405,0.431,0.45,0.47,0.486,0.502,0.518,0.535,0.548,0.561,0.574,0.587,0.596,0.609,0.625,0.642,0.661,0.68,0.697,0.713,0.729,0.745]},
{"N":"0.5","B":"1.0","bx":[0,0.004,0.015,0.036,0.057,0.078,0.1,0.121,0.142,0.163,0.184,0.216,0.248,0.28,0.311,0.343,0.375,0.407,0.439,0.481,0.523,0.566,0.608,0.65,0.703,0.756,0.809,0.862,0.915,0.958,1],"by":[0.015,0.027,0.06,0.118,0.176,0.228,0.273,0.306,0.332,0.358,0.383,0.409,0.429,0.448,0.464,0.481,0.494,0.506,0.516,0.526,0.536,0.545,0.558,0.568,0.578,0.587,0.597,0.61,0.62,0.63,0.636]},
{"N":"1.0","B":"0.0","bx":[0,0.007,0.013,0.026,0.046,0.065,0.092,0.124,0.163,0.209,0.255,0.301,0.346,0.399,0.451,0.49,0.529,0.569,0.608,0.627,0.654,0.693,0.732,0.778,0.83,0.876,0.92,1],"by":[0,0.013,0.058,0.117,0.181,0.246,0.298,0.337,0.375,0.414,0.447,0.479,0.511,0.544,0.576,0.602,0.634,0.667,0.699,0.72,0.751,0.79,0.822,0.854,0.893,0.932,1,1]},
{"N":"1.0","B":"0.5","bx":[0,0.007,0.021,0.048,0.083,0.124,0.166,0.207,0.248,0.29,0.331,0.372,0.428,0.483,0.538,0.593,0.648,0.703,0.745,0.786,0.828,0.862,0.897,0.924,0.952,0.979,1],"by":[0,0.016,0.055,0.107,0.172,0.237,0.289,0.328,0.36,0.393,0.425,0.451,0.477,0.503,0.529,0.549,0.568,0.588,0.601,0.614,0.633,0.653,0.679,0.705,0.731,0.756,0.775]},
{"N":"1.0","B":"1.0","bx":[0,0.007,0.026,0.053,0.086,0.119,0.152,0.185,0.218,0.251,0.284,0.317,0.35,0.383,0.416,0.449,0.482,0.515,0.548,0.581,0.614,0.647,0.68,0.713,0.739,0.772,0.805,0.838,0.871,0.904,0.937,0.97,1],"by":[0.023,0.049,0.089,0.121,0.154,0.18,0.207,0.233,0.252,0.272,0.292,0.311,0.328,0.344,0.364,0.38,0.4,0.416,0.433,0.449,0.462,0.475,0.489,0.502,0.515,0.528,0.541,0.554,0.567,0.58,0.59,0.6,0.607]},
{"N":"0.0","B":"0.0","lab":"a(i)"},
{"N":"0.0","B":"0.5","lab":"a(ii)"},
{"N":"0.0","B":"1.0","lab":"a(iii)"},
{"N":"0.5","B":"0.0","lab":"b(i)"},
{"N":"0.5","B":"0.5","lab":"b(ii)"},
{"N":"0.5","B":"1.0","lab":"b(iii)"},
{"N":"1.0","B":"0.0","lab":"c(i)"},
{"N":"1.0","B":"0.5","lab":"c(ii)"},
{"N":"1.0","B":"1.0","lab":"c(iii)"},
{"N":"0.0","B":"1.0","rt":"n\u00a0\u00a0=\u00a0\u00a00.0"},
{"N":"0.5","B":"1.0","rt":"n\u00a0\u00a0=\u00a0\u00a00.5"},
{"N":"1.0","B":"1.0","rt":"n\u00a0\u00a0=\u00a0\u00a01.0"},
{"N":"1.0","B":"0.5","c0":[0,0.02,0.04,0.06,0.08,0.1,0.12,0.14,0.16,0.18,0.2,0.22,0.24,0.26,0.28,0.3,0.32,0.34,0.36,0.38,0.4,0.42,0.44,0.46,0.48,0.5,0.52,0.54,0.56,0.58,0.6,0.62,0.64,0.66,0.68,0.7,0.72,0.74,0.76,0.78,0.8,0.82,0.84,0.86,0.88,0.9,0.92,0.94,0.96,0.98],"c1":[0.02,0.04,0.06,0.08,0.1,0.12,0.14,0.16,0.18,0.2,0.22,0.24,0.26,0.28,0.3,0.32,0.34,0.36,0.38,0.4,0.42,0.44,0.46,0.48,0.5,0.52,0.54,0.56,0.58,0.6,0.62,0.64,0.66,0.68,0.7,0.72,0.74,0.76,0.78,0.8,0.82,0.84,0.86,0.88,0.9,0.92,0.94,0.96,0.98,1]},
{"N":"1.0","B":"0.5","gt":["0.0","1.0"],"gx":[-0.112,1.093],"gy":[-0.168,-0.168]},
{"N":"1.0","B":"0.5","ft":"FOV","fx":0.513,"fy":-0.168},
{"N":"1.0","B":"0.0","seg":["u","u","L","L","L","r","r"],"lx":[-0.132,-0.132,-0.132,-0.132,0.092,0.397,0.585],"ly":[0.313,0.54,0.083,-0.155,-0.155,-0.162,-0.162],"o":[1,2,1,2,3,1,2]},
{"N":"1.0","B":"0.0","hs":["up","right"],"hx":[-0.132,0.612],"hy":[0.563,-0.162]},
{"N":"1.0","B":"0.0","tt":["η","C"],"tx":[-0.162,0.172],"ty":[0.153,-0.223]},
{"N":"1.0","B":"0.0","st":"v","sx":0.272,"sy":-0.247}
]},
"facet":{
"row":{"field":"N","type":"nominal","title":null,"header":{"labels":false}},
"column":{"field":"B","type":"nominal","title":null,"header":{"labelOrient":"top","labelAngle":0,"labelAlign":"center","labelBaseline":"alphabetic","labelPadding":-56,"labelFont":"DejaVu Serif","labelFontSize":70,"labelFontWeight":"bold","labelColor":"black","labelExpr":"'B\u00a0\u00a0=\u00a0\u00a0' + datum.value"}}
},
"spacing":{"row":85,"column":92},
"bounds":"flush",
"spec":{
"width":600,"height":600,
"resolve":{"scale":{"x":"independent","y":"independent"}},
"layer":[
{"transform":[{"filter":"isValid(datum.y)"},{"fold":["a","b","c","d","e","f","g","h","i","j","k","l","m","n","o","p","q","r","s","t"],"as":["col","v"]},{"filter":"isValid(datum.v)"}],
"mark":{"type":"rect"},
"encoding":{
"x":{"field":"col","type":"ordinal","scale":{"domain":["a","b","c","d","e","f","g","h","i","j","k","l","m","n","o","p","q","r","s","t"],"paddingInner":0,"paddingOuter":0},"axis":null},
"y":{"field":"y","type":"ordinal","scale":{"domain":[19,18,17,16,15,14,13,12,11,10,9,8,7,6,5,4,3,2,1,0],"paddingInner":0,"paddingOuter":0},"axis":null},
"color":{"field":"v","type":"quantitative","scale":{"scheme":"redyellowgreen","domain":[0,1]},"legend":null}}},
{"transform":[{"filter":"isValid(datum.bx)"},{"flatten":["bx","by"]}],
"mark":{"type":"area","color":"#a50026","interpolate":"linear"},
"encoding":{
"x":{"field":"bx","type":"quantitative","scale":{"domain":[0,1]},"axis":null},
"y":{"field":"by","type":"quantitative","scale":{"domain":[0,1]},"axis":null},
"y2":{"datum":0}}},
{"transform":[{"filter":"isValid(datum.lab)"}],
"mark":{"type":"text","align":"right","baseline":"alphabetic","dy":-20,"font":"Liberation Serif","fontSize":78,"fontWeight":"bold","color":"black"},
"encoding":{
"x":{"datum":1,"type":"quantitative","scale":{"domain":[0,1]},"axis":null},
"y":{"datum":0,"type":"quantitative","scale":{"domain":[0,1]},"axis":null},
"text":{"field":"lab"}}},
{"transform":[{"filter":"isValid(datum.rt)"}],
"mark":{"type":"text","align":"center","baseline":"middle","angle":270,"font":"DejaVu Serif","fontSize":70,"fontWeight":"bold","color":"black"},
"encoding":{
"x":{"datum":1.058,"type":"quantitative","scale":{"domain":[0,1]},"axis":null},
"y":{"datum":0.543,"type":"quantitative","scale":{"domain":[0,1]},"axis":null},
"text":{"field":"rt"}}},
{"transform":[{"filter":"isValid(datum.c0)"},{"flatten":["c0","c1"]}],
"mark":{"type":"rect"},
"encoding":{
"x":{"field":"c0","type":"quantitative","scale":{"domain":[0,1]},"axis":null},
"x2":{"field":"c1"},
"y":{"datum":-0.103,"type":"quantitative","scale":{"domain":[0,1]},"axis":null},
"y2":{"datum":-0.228},
"color":{"field":"c0","type":"quantitative","scale":{"scheme":"redyellowgreen","domain":[0,1]},"legend":null}}},
{"transform":[{"filter":"isValid(datum.gt)"},{"flatten":["gt","gx","gy"]}],
"mark":{"type":"text","align":"center","baseline":"middle","font":"Liberation Serif","fontSize":80,"fontWeight":"bold","color":"black"},
"encoding":{
"x":{"field":"gx","type":"quantitative","scale":{"domain":[0,1]},"axis":null},
"y":{"field":"gy","type":"quantitative","scale":{"domain":[0,1]},"axis":null},
"text":{"field":"gt"}}},
{"transform":[{"filter":"isValid(datum.ft)"}],
"mark":{"type":"text","align":"center","baseline":"middle","font":"Liberation Serif","fontSize":100,"fontWeight":"bold","color":"black"},
"encoding":{
"x":{"field":"fx","type":"quantitative","scale":{"domain":[0,1]},"axis":null},
"y":{"field":"fy","type":"quantitative","scale":{"domain":[0,1]},"axis":null},
"text":{"field":"ft"}}},
{"transform":[{"filter":"isValid(datum.seg)"},{"flatten":["seg","lx","ly","o"]}],
"mark":{"type":"line","color":"black","strokeWidth":18,"strokeCap":"butt","strokeJoin":"miter"},
"encoding":{
"x":{"field":"lx","type":"quantitative","scale":{"domain":[0,1]},"axis":null},
"y":{"field":"ly","type":"quantitative","scale":{"domain":[0,1]},"axis":null},
"detail":{"field":"seg"},
"order":{"field":"o","type":"quantitative"}}},
{"transform":[{"filter":"isValid(datum.hs)"},{"flatten":["hs","hx","hy"]}],
"mark":{"type":"point","filled":true,"color":"black","opacity":1,"size":2704,"strokeWidth":0},
"encoding":{
"x":{"field":"hx","type":"quantitative","scale":{"domain":[0,1]},"axis":null},
"y":{"field":"hy","type":"quantitative","scale":{"domain":[0,1]},"axis":null},
"shape":{"field":"hs","type":"nominal","scale":{"domain":["up","right"],"range":["M-1,1L1,1L0,-1Z","M-1,-1L1,0L-1,1Z"]},"legend":null}}},
{"transform":[{"filter":"isValid(datum.tt)"},{"flatten":["tt","tx","ty"]}],
"mark":{"type":"text","align":"left","baseline":"alphabetic","font":"Liberation Serif","fontSize":90,"fontWeight":"bold","fontStyle":"italic","color":"black"},
"encoding":{
"x":{"field":"tx","type":"quantitative","scale":{"domain":[0,1]},"axis":null},
"y":{"field":"ty","type":"quantitative","scale":{"domain":[0,1]},"axis":null},
"text":{"field":"tt"}}},
{"transform":[{"filter":"isValid(datum.st)"}],
"mark":{"type":"text","align":"left","baseline":"alphabetic","font":"Liberation Serif","fontSize":75,"fontWeight":"bold","fontStyle":"italic","color":"black"},
"encoding":{
"x":{"field":"sx","type":"quantitative","scale":{"domain":[0,1]},"axis":null},
"y":{"field":"sy","type":"quantitative","scale":{"domain":[0,1]},"axis":null},
"text":{"field":"st"}}}
]},
"config":{"view":{"stroke":null},"font":"Liberation Serif"}
}
